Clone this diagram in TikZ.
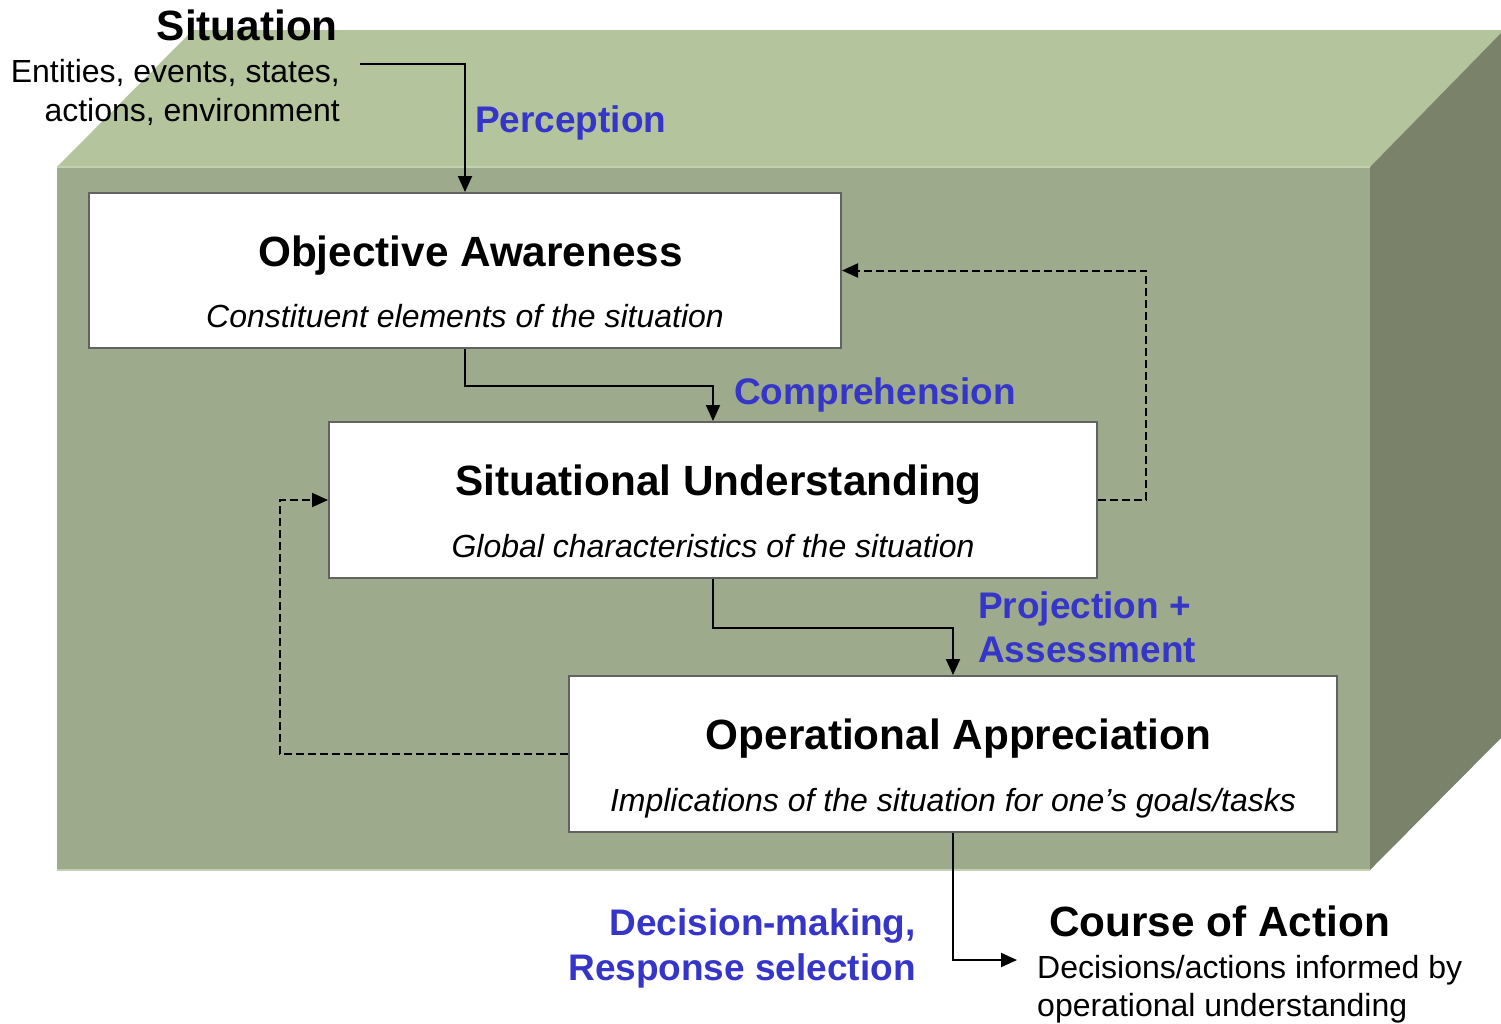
\documentclass[tikz,border=0pt]{standalone}
\usepackage{fontspec}
\setmainfont{Liberation Sans}
\usetikzlibrary{arrows.meta}
\definecolor{topg}{HTML}{B4C49D}
\definecolor{frontg}{HTML}{9DAB8C}
\definecolor{rightg}{HTML}{7A836A}
\definecolor{edgeg}{HTML}{C2D0AD}
\definecolor{boxgray}{HTML}{626262}
\definecolor{labelblue}{HTML}{3535C9}
\tikzset{
  plain/.style={inner sep=0pt, font=\fontsize{32}{38}\selectfont},
  ttl/.style={inner sep=0pt, font=\fontsize{42.3}{50}\selectfont\bfseries},
  subt/.style={inner sep=0pt, font=\fontsize{32}{38}\selectfont\itshape},
  bluelbl/.style={inner sep=0pt, text=labelblue, font=\fontsize{37}{44}\selectfont\bfseries},
  stagebox/.style={draw=boxgray, line width=2pt, fill=white, inner sep=0pt},
  conn/.style={draw=black, line width=2pt, -{Triangle[length=16pt,width=14pt]}},
  fb/.style={conn, dash pattern=on 8pt off 4pt}
}
\begin{document}
\begin{tikzpicture}[x=1pt,y=-1pt]
\useasboundingbox (0,0) rectangle (1501,1023);
\fill[white] (0,0) rectangle (1501,1023);
% cube
\fill[topg] (57,167) -- (193,30) -- (1501,30) -- (1501,33) -- (1370,167) -- cycle;
\fill[rightg] (1370,167) -- (1501,33) -- (1501,738) -- (1370,870) -- cycle;
\fill[frontg] (57,167) rectangle (1370,870);
\draw[edgeg, line width=2pt] (57,167) -- (1370,167);
\draw[edgeg, line width=2pt] (57,870) -- (1370,870);
% boxes
\node[stagebox, minimum width=752pt, minimum height=155pt] (oa) at (465,270.5) {};
\node[stagebox, minimum width=768pt, minimum height=156pt] (su) at (713,500) {};
\node[stagebox, minimum width=768pt, minimum height=156pt] (opa) at (953,754) {};
% box texts
\node[ttl, anchor=base] (oat) at (470.5,266) {Objective Awareness};
\node[subt, anchor=base] (oas) at (465,327) {Constituent elements of the situation};
\node[ttl, anchor=base] (sut) at (718.5,495) {Situational Understanding};
\node[subt, anchor=base] (sus) at (713,557) {Global characteristics of the situation};
\node[ttl, anchor=base] (opat) at (958.5,749) {Operational Appreciation};
\node[subt, anchor=base] (opas) at (953,811) {Implications of the situation for one’s goals/tasks};
% situation text
\node[ttl, anchor=base east] (sit) at (338,40) {Situation};
\node[plain, anchor=base east] (ent1) at (340,82) {Entities, events, states,};
\node[plain, anchor=base east] (ent2) at (340,121) {actions, environment};
% course of action
\node[ttl, anchor=base west] (coa) at (1049,936) {Course of Action};
\node[plain, anchor=base west] (coa1) at (1037,978) {Decisions/actions informed by};
\node[plain, anchor=base west] (coa2) at (1037,1016) {operational understanding};
% blue labels
\node[bluelbl, anchor=base west] (perc) at (475,132) {Perception};
\node[bluelbl, anchor=base west] (comp) at (734,404) {Comprehension};
\node[bluelbl, anchor=base west] (proj1) at (978,618) {Projection +};
\node[bluelbl, anchor=base west] (proj2) at (978,662) {Assessment};
\node[bluelbl, anchor=base east] (dec1) at (916,935) {Decision-making,};
\node[bluelbl, anchor=base east] (dec2) at (916,980) {Response selection};
% connectors
\coordinate (pstart) at (360,64);
\coordinate (cend) at (1017,960);
\draw[conn] (pstart) -| (oa.north);
\draw[conn] (oa.south) -- ++(0,37) -| (su.north);
\draw[conn] (su.south) -- ++(0,49) -| (opa.north);
\draw[conn] (opa.south) |- (cend);
\draw[fb] (su.east) -- ++(48,0) |- (oa.east);
\draw[fb] (opa.west) -- ++(-288,0) |- (su.west);
\end{tikzpicture}
\end{document}
